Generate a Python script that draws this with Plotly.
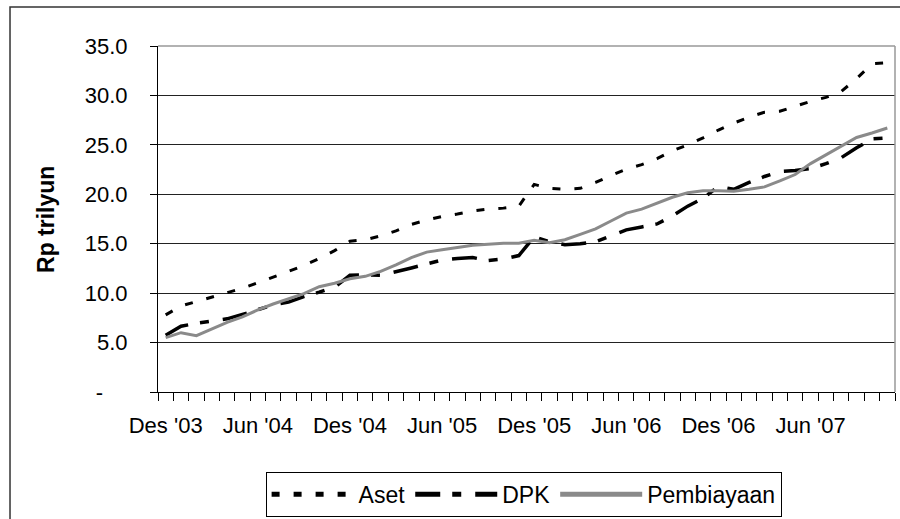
import plotly.graph_objects as go

months = ["Des '03", "Jan '04", "Feb '04", "Mar '04", "Apr '04", "Mei '04", "Jun '04",
          "Jul '04", "Agu '04", "Sep '04", "Okt '04", "Nov '04", "Des '04",
          "Jan '05", "Feb '05", "Mar '05", "Apr '05", "Mei '05", "Jun '05",
          "Jul '05", "Agu '05", "Sep '05", "Okt '05", "Nov '05", "Des '05",
          "Jan '06", "Feb '06", "Mar '06", "Apr '06", "Mei '06", "Jun '06",
          "Jul '06", "Agu '06", "Sep '06", "Okt '06", "Nov '06", "Des '06",
          "Jan '07", "Feb '07", "Mar '07", "Apr '07", "Mei '07", "Jun '07",
          "Jul '07", "Agu '07", "Sep '07", "Okt '07", "Nov '07"]

aset = [7.8, 8.7, 9.15, 9.6, 10.0, 10.5, 11.05, 11.6, 12.2, 12.8, 13.5, 14.3,
        15.25, 15.4, 15.8, 16.3, 16.95, 17.4, 17.75, 18.0, 18.3, 18.5, 18.6, 18.8,
        21.0, 20.6, 20.5, 20.6, 21.2, 21.9, 22.55, 23.0, 23.6, 24.4, 25.0, 25.7,
        26.5, 27.2, 27.8, 28.3, 28.4, 28.9, 29.4, 29.8, 30.4, 31.7, 33.2, 33.3]

dpk = [5.75, 6.65, 6.95, 7.15, 7.4, 7.85, 8.3, 8.8, 9.1, 9.65, 10.1, 10.6,
       11.8, 11.85, 11.8, 12.15, 12.55, 12.95, 13.35, 13.5, 13.6, 13.3, 13.45, 13.8,
       15.7, 15.2, 14.9, 15.0, 15.2, 15.8, 16.4, 16.7, 17.0, 17.8, 18.8, 19.6,
       20.8, 20.5, 21.2, 21.8, 22.3, 22.4, 22.6, 23.1, 23.7, 24.7, 25.6, 25.7]

pembiayaan = [5.5, 6.0, 5.7, 6.4, 7.05, 7.6, 8.3, 8.9, 9.45, 9.95, 10.65, 11.0,
              11.45, 11.7, 12.2, 12.85, 13.6, 14.15, 14.4, 14.65, 14.85, 14.95, 15.05, 15.05,
              15.35, 15.1, 15.4, 15.95, 16.5, 17.3, 18.1, 18.5, 19.1, 19.7, 20.15, 20.35,
              20.35, 20.3, 20.5, 20.75, 21.35, 22.0, 23.1, 24.0, 24.9, 25.75, 26.2, 26.7]

label_every = 6
y_tickvals = [0, 5, 10, 15, 20, 25, 30, 35]
y_ticktext = ["-\u00a0\u00a0\u00a0\u00a0", "5.0", "10.0", "15.0", "20.0", "25.0", "30.0", "35.0"]

x = list(range(len(months)))
x_tickvals = x[::label_every]
x_ticktext = months[::label_every]

FONT = "Liberation Sans, Arial, sans-serif"

fig = go.Figure()
fig.add_trace(go.Scatter(x=x, y=aset, name="Aset", mode="lines",
                         line=dict(color="black", width=3, dash="8px,14px")))
fig.add_trace(go.Scatter(x=x, y=dpk, name="DPK", mode="lines",
                         line=dict(color="black", width=3.5, dash="25px,12px,9px,14px")))
fig.add_trace(go.Scatter(x=x, y=pembiayaan, name="Pembiayaan", mode="lines",
                         line=dict(color="#8a8a8a", width=3)))

fig.update_layout(
    width=900, height=519,
    margin=dict(l=158, r=5, t=46, b=127, autoexpand=False),
    paper_bgcolor="white", plot_bgcolor="white",
    font=dict(family=FONT, color="black", size=21),
    showlegend=True,
    legend=dict(orientation="h", x=0.146, xanchor="left", y=-0.2303, yanchor="top",
                bordercolor="black", borderwidth=1, bgcolor="white",
                font=dict(size=23, family=FONT), itemwidth=82,
                tracegroupgap=0, itemsizing="constant"),
    xaxis=dict(range=[-0.5, len(months) - 0.5], tickmode="array",
               tickvals=x_tickvals, ticktext=x_ticktext, ticks="",
               showgrid=False, zeroline=False, showline=True, linecolor="black", linewidth=1,
               tickfont=dict(size=22, family=FONT), ticklabelstandoff=14, automargin=False,
               minor=dict(tickmode="linear", tick0=-0.5, dtick=1, ticks="outside",
                          ticklen=8, tickcolor="black", tickwidth=1, showgrid=False)),
    yaxis=dict(range=[0, 35], tickmode="array", tickvals=y_tickvals, ticktext=y_ticktext,
               ticks="outside", ticklen=7, tickcolor="black",
               showgrid=True, gridcolor="#222222", gridwidth=1, zeroline=False,
               showline=True, linecolor="black", linewidth=1, automargin=False,
               tickfont=dict(size=22, family=FONT), ticklabelstandoff=18),
    shapes=[
        dict(type="line", xref="paper", yref="paper", x0=0, x1=1, y0=1, y1=1,
             line=dict(color="#999999", width=1.5), layer="above"),
        dict(type="line", xref="paper", yref="paper", x0=1, x1=1, y0=0, y1=1,
             line=dict(color="#999999", width=1.5), layer="above"),
        dict(type="rect", xref="paper", yref="paper", x0=-0.2008, x1=1.0136,
             y0=-0.3844, y1=1.1127, line=dict(color="#333333", width=1.5),
             fillcolor="rgba(0,0,0,0)", layer="below"),
    ],
    annotations=[
        dict(text="<b>Rp trilyun</b>", xref="paper", yref="paper", x=-0.152, y=0.5,
             xanchor="center", yanchor="middle", textangle=-90, showarrow=False,
             font=dict(size=23, family=FONT, color="black")),
    ],
)

fig.write_html("out.html", config={"displayModeBar": False},
               post_script="document.body.style.margin='0';document.body.style.overflow='hidden';")
